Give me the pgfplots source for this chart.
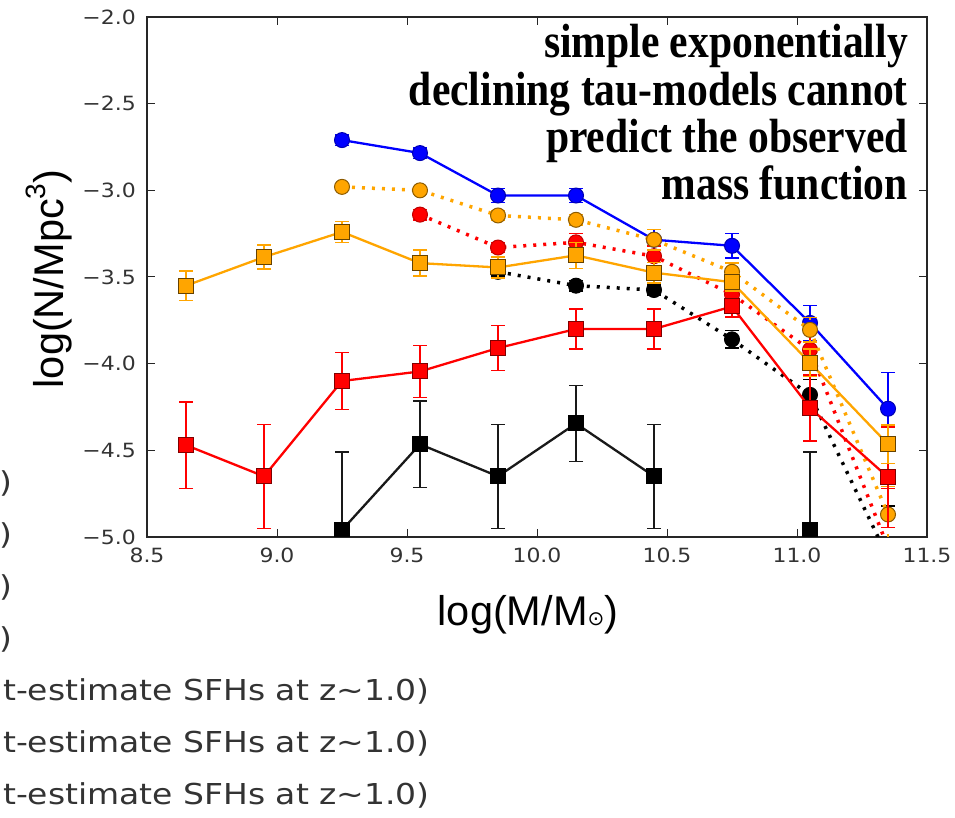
\documentclass[border=0pt]{standalone}
\usepackage{pgfplots}
\pgfplotsset{compat=1.18}
\usepackage{fontspec}
\setmainfont{DejaVu Sans}
\newfontfamily\dvw[FakeStretch=1.12]{DejaVu Sans}
\newfontfamily\dvl[FakeStretch=1.145]{DejaVu Sans}
\newfontfamily\lsans{Liberation Sans}
\newfontfamily\tbold[FakeStretch=0.866]{Liberation Serif}
\definecolor{mplorange}{HTML}{FFA500}
\definecolor{mplblue}{HTML}{0000FF}
\definecolor{mplred}{HTML}{FF0000}
\begin{document}
\begin{tikzpicture}
\useasboundingbox (0pt,0pt) rectangle (955pt,817pt);
\begin{axis}[
  at={(147pt,280pt)}, anchor=south west, scale only axis,
  width=780pt, height=520pt,
  xmin=8.5, xmax=11.5, ymin=-5, ymax=-2,
  xtick={8.5,9,9.5,10,10.5,11,11.5},
  xticklabels={8.5,9.0,9.5,10.0,10.5,11.0,11.5},
  ytick={-5,-4.5,-4,-3.5,-3,-2.5,-2},
  yticklabels={−5.0,−4.5,−4.0,−3.5,−3.0,−2.5,−2.0},
  tick align=inside, major tick length=8pt,
  tick style={line width=1pt, color=black!85},
  axis line style={line width=2pt, color=black!85},
  ticklabel style={font=\dvw\fontsize{19.6}{20}\selectfont, text=black!80, inner sep=0pt},
  xticklabel style={yshift=-11pt},
  yticklabel style={xshift=-11pt},
  clip marker paths=true,
  error bars/y dir=both, error bars/y explicit,
  error bars/error bar style={line width=1.5pt},
  error bars/error mark options={rotate=90, mark size=7pt, line width=1.5pt},
]
% blue solid circles
\addplot[color=mplblue, line width=2.3pt, mark=*, mark size=7.5pt,
  mark options={solid, line width=1pt, fill=mplblue, draw=mplblue!70!black}]
coordinates {
(9.25,-2.71) +- (0,0.03)
(9.55,-2.785) +- (0,0.03)
(9.85,-3.03) +- (0,0.04)
(10.15,-3.03) +- (0,0.04)
(10.45,-3.285) +- (0,0.06)
(10.75,-3.32) +- (0,0.07)
(11.05,-3.765) +- (0,0.10)
(11.35,-4.26) +- (0,0.21)
};
% black dotted circles
\addplot[color=black, line width=3.5pt, dash pattern=on 3pt off 7pt, mark=*, mark size=7.5pt,
  mark options={solid, line width=1pt, fill=black, draw=black}]
coordinates {
(9.85,-3.47) +- (0,0.03)
(10.15,-3.55) +- (0,0.03)
(10.45,-3.575) +- (0,0.03)
(10.75,-3.86) +- (0,0.05)
(11.05,-4.18) +- (0,0.09)
(11.35,-5.12) +- (0,0.30)
};
% red dotted circles
\addplot[color=mplred, line width=3.5pt, dash pattern=on 3pt off 7pt, mark=*, mark size=7.5pt,
  mark options={solid, line width=1pt, fill=mplred, draw=mplred!75!black}]
coordinates {
(9.55,-3.14) +- (0,0.03)
(9.85,-3.33) +- (0,0.03)
(10.15,-3.30) +- (0,0.05)
(10.45,-3.38) +- (0,0.06)
(10.75,-3.60) +- (0,0.07)
(11.05,-3.92) +- (0,0.10)
(11.35,-5.06) +- (0,0.34)
};
% orange dotted circles
\addplot[color=mplorange, line width=3.5pt, dash pattern=on 3pt off 7pt, mark=*, mark size=7.5pt,
  mark options={solid, line width=1pt, fill=mplorange, draw=mplorange!55!black}]
coordinates {
(9.25,-2.98) +- (0,0.02)
(9.55,-3.00) +- (0,0.02)
(9.85,-3.145) +- (0,0.03)
(10.15,-3.17) +- (0,0.03)
(10.45,-3.285) +- (0,0.06)
(10.75,-3.47) +- (0,0.05)
(11.05,-3.805) +- (0,0.07)
(11.35,-4.87) +- (0,0.16)
};
% black solid squares
\addplot[color=black!90, line width=2.3pt, mark=square*, mark size=7.5pt,
  mark options={solid, line width=1pt, fill=black, draw=black}]
coordinates {
(9.25,-4.96) +- (0,0.45)
(9.55,-4.465) +- (0,0.25)
(9.85,-4.65) +- (0,0.30)
(10.15,-4.345) +- (0,0.22)
(10.45,-4.65) +- (0,0.30)
};
\addplot[color=black!90, line width=2.3pt, mark=square*, mark size=7.5pt,
  mark options={solid, line width=1pt, fill=black, draw=black}]
coordinates {
(11.05,-4.96) +- (0,0.45)
};
% red solid squares
\addplot[color=mplred, line width=2.3pt, mark=square*, mark size=7.5pt,
  mark options={solid, line width=1pt, fill=mplred, draw=mplred!50!black}]
coordinates {
(8.65,-4.47) +- (0,0.25)
(8.95,-4.65) +- (0,0.30)
(9.25,-4.10) +- (0,0.165)
(9.55,-4.045) +- (0,0.15)
(9.85,-3.91) +- (0,0.13)
(10.15,-3.80) +- (0,0.115)
(10.45,-3.80) +- (0,0.115)
(10.75,-3.67) +- (0,0.06)
(11.05,-4.255) +- (0,0.19)
(11.35,-4.655) +- (0,0.29)
};
% orange solid squares
\addplot[color=mplorange, line width=2.3pt, mark=square*, mark size=7.5pt,
  mark options={solid, line width=1pt, fill=mplorange, draw=mplorange!40!black}]
coordinates {
(8.65,-3.55) +- (0,0.085)
(8.95,-3.385) +- (0,0.07)
(9.25,-3.24) +- (0,0.06)
(9.55,-3.42) +- (0,0.075)
(9.85,-3.445) +- (0,0.06)
(10.15,-3.375) +- (0,0.075)
(10.45,-3.475) +- (0,0.06)
(10.75,-3.53) +- (0,0.05)
(11.05,-3.995) +- (0,0.08)
(11.35,-4.465) +- (0,0.11)
};
\end{axis}
% annotation
\begin{scope}[every node/.style={anchor=base east, inner sep=0pt, font=\tbold\bfseries\fontsize{48}{48}\selectfont}]
\node at (908pt,759pt) {simple exponentially};
\node at (908pt,711pt) {declining tau-models cannot};
\node at (908pt,664pt) {predict the observed};
\node at (908pt,617pt) {mass function};
\end{scope}
% axis labels
\node[rotate=90, inner sep=0pt, font=\lsans\fontsize{41.5}{42}\selectfont] at (49pt,538pt)
  {log(N/Mpc\raisebox{0.42em}{\fontsize{28}{28}\selectfont 3})};
\node[inner sep=0pt, font=\lsans\fontsize{41.5}{42}\selectfont] at (528pt,202pt)
  {log(M/M{\fontsize{20}{20}\selectfont\normalfont ⊙})};
% cut-off legend text
\begin{scope}[every node/.style={anchor=east, inner sep=0pt, text=black!80, font=\dvl\fontsize{28.8}{30}\selectfont}]
\node at (13pt,334pt) {)};
\node at (13pt,282pt) {)};
\node at (13pt,230pt) {)};
\node at (13pt,178pt) {)};
\node at (430pt,126pt) {t-estimate SFHs at z\textasciitilde 1.0)};
\node at (430pt,74pt) {t-estimate SFHs at z\textasciitilde 1.0)};
\node at (430pt,22pt) {t-estimate SFHs at z\textasciitilde 1.0)};
\end{scope}
\end{tikzpicture}
\end{document}
